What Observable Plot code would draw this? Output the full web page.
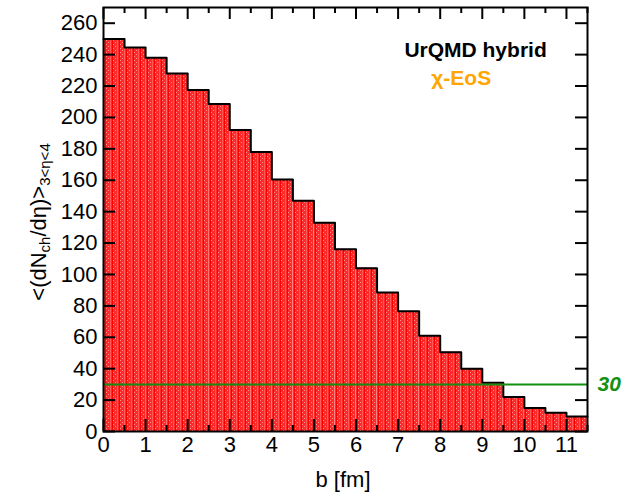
<!DOCTYPE html>
<html>
<head>
<meta charset="utf-8">
<script src="https://cdn.jsdelivr.net/npm/d3@7"></script>
<script src="https://cdn.jsdelivr.net/npm/@observablehq/plot@0.6"></script>
<style>
  html, body { margin: 0; padding: 0; background: #fff; }
  svg { font-family: "Liberation Sans", Arial, sans-serif; }
</style>
</head>
<body>
<div id="chart"></div>
<script>
// ---- data ----
const binLow = [0, 0.5, 1, 1.5, 2, 2.5, 3, 3.5, 4, 4.5, 5, 5.5, 6, 6.5, 7, 7.5, 8, 8.5, 9, 9.5, 10, 10.5, 11];
const binWidth = 0.5;
const dNdEta = [250, 244.5, 238, 228, 217.5, 208.5, 192, 178, 160.5, 147, 133, 116, 104, 88.5, 76.5, 61, 50.5, 40, 31, 22, 15, 12, 9.5];
const threshold = 30;
const xMajorTicks = [0, 1, 2, 3, 4, 5, 6, 7, 8, 9, 10, 11];
const xMinorTicks = [0.5, 1.5, 2.5, 3.5, 4.5, 5.5, 6.5, 7.5, 8.5, 9.5, 10.5, 11.5];
const yTicks = [0, 20, 40, 60, 80, 100, 120, 140, 160, 180, 200, 220, 240, 260];
const xDomain = [0, 11.5];
const yDomain = [0, 270];
const titleLines = [
  {text: "UrQMD hybrid", color: "#000000", x: 8.84, y: 243},
  {text: "χ-EoS", color: "#ffa500", x: 8.5, y: 225}
];

const bins = binLow.map((b, i) => ({b0: b, b1: b + binWidth, v: dNdEta[i]}));
const outline = bins.map(d => ({x: d.b0, y: d.v}));
outline.push({x: bins[bins.length - 1].b1, y: bins[bins.length - 1].v});

const W = 635, H = 496;
const mL = 103, mR = 48, mT = 7, mB = 65;
const pxPerX = (W - mL - mR) / (xDomain[1] - xDomain[0]);
const pxPerY = (H - mT - mB) / (yDomain[1] - yDomain[0]);
const majLen = 12, minLen = 6;
const xMaj = majLen / pxPerX;
const yMaj = majLen / pxPerY, yMin = minLen / pxPerY;

const green = "#119011";
const fs = 22;

const plot = Plot.plot({
  width: W, height: H,
  marginLeft: mL, marginRight: mR, marginTop: mT, marginBottom: mB,
  style: {fontFamily: "Liberation Sans, Arial, sans-serif", fontSize: fs + "px", overflow: "visible"},
  x: {domain: xDomain, label: null},
  y: {domain: yDomain, label: null},
  marks: [
    Plot.rectY(bins, {x1: "b0", x2: "b1", y: "v", fill: "red", inset: 0}),
    Plot.lineY(outline, {x: "x", y: "y", curve: "step-after", stroke: "black", strokeWidth: 2}),
    Plot.ruleY([threshold], {stroke: green, strokeWidth: 2}),
    Plot.ruleY(yTicks, {y: d => d, x1: xDomain[0], x2: xDomain[0] + xMaj, stroke: "black", strokeWidth: 2}),
    Plot.ruleY(yTicks, {y: d => d, x1: xDomain[1] - xMaj, x2: xDomain[1], stroke: "black", strokeWidth: 2}),
    Plot.ruleX(xMajorTicks, {x: d => d, y1: yDomain[0], y2: yDomain[0] + yMaj, stroke: "black", strokeWidth: 2}),
    Plot.ruleX(xMinorTicks, {x: d => d, y1: yDomain[0], y2: yDomain[0] + yMin, stroke: "black", strokeWidth: 2}),
    Plot.ruleX(xMajorTicks, {x: d => d, y1: yDomain[1] - yMaj, y2: yDomain[1], stroke: "black", strokeWidth: 2}),
    Plot.ruleX(xMinorTicks, {x: d => d, y1: yDomain[1] - yMin, y2: yDomain[1], stroke: "black", strokeWidth: 2}),
    Plot.frame({stroke: "black", strokeWidth: 2}),
    Plot.axisX({ticks: xMajorTicks, tickSize: 0, tickPadding: 5, fontSize: fs, label: null, tickFormat: d => String(d)}),
    Plot.axisY({ticks: yTicks, tickSize: 0, tickPadding: 6, fontSize: fs, label: null, tickFormat: d => String(d)}),
    Plot.text([threshold], {x: xDomain[1], y: d => d, text: d => String(d), dx: 10, textAnchor: "start",
      fill: green, fontSize: 21, fontWeight: "bold", fontStyle: "italic"}),
    Plot.text(titleLines, {x: "x", y: "y", text: "text", fill: "color", fontSize: 21, fontWeight: "bold"})
  ]
});

// dotted red fill pattern
const svg = d3.select(plot);
const defs = svg.insert("defs", ":first-child");
const pat = defs.append("pattern").attr("id", "redpat").attr("patternUnits", "userSpaceOnUse")
  .attr("width", 7).attr("height", 4);
pat.append("rect").attr("width", 7).attr("height", 4).attr("fill", "#ff2a2a");
pat.append("rect").attr("x", 1).attr("y", 0).attr("width", 1).attr("height", 1).attr("fill", "#ff9090");
pat.append("rect").attr("x", 3).attr("y", 2).attr("width", 1).attr("height", 1).attr("fill", "#ff9090");
pat.append("rect").attr("x", 5).attr("y", 0).attr("width", 1).attr("height", 4).attr("fill", "#ff5a5a");
pat.append("rect").attr("x", 0).attr("y", 0).attr("width", 1).attr("height", 4).attr("fill", "#ff0000");
svg.selectAll('g[aria-label="rect"]').attr("fill", "url(#redpat)");

// axis titles
svg.append("text")
  .attr("x", mL + (W - mL - mR) / 2 - 2).attr("y", H - 9)
  .attr("text-anchor", "middle").attr("font-size", fs).attr("fill", "black")
  .text("b [fm]");

const yl = svg.append("text")
  .attr("transform", `translate(46, 222) rotate(-90)`)
  .attr("text-anchor", "middle").attr("font-size", fs).attr("fill", "black");
yl.append("tspan").text("<(dN");
yl.append("tspan").attr("font-size", 15).attr("baseline-shift", "-25%").text("ch");
yl.append("tspan").text("/dη)>");
yl.append("tspan").attr("font-size", 15).attr("baseline-shift", "-25%").text("3<η<4");

document.getElementById("chart").appendChild(plot);
</script>
</body>
</html>
